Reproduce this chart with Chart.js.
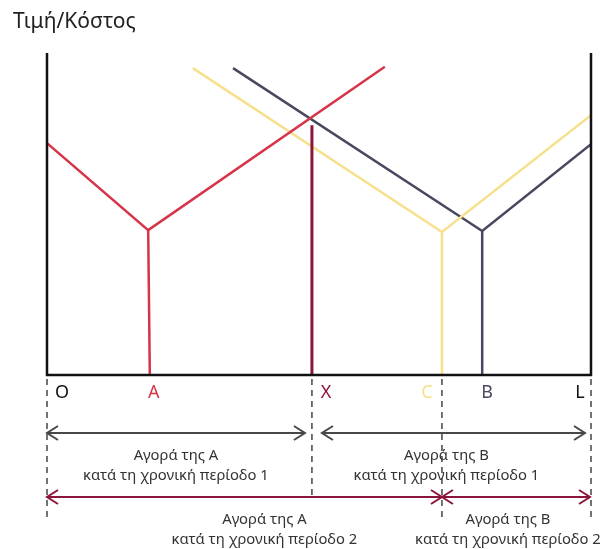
<!DOCTYPE html>
<html>
<head>
<meta charset="utf-8">
<script src="https://cdn.jsdelivr.net/npm/chart.js@4/dist/chart.umd.min.js"></script>
<style>
  html, body { margin: 0; padding: 0; background: #fff; }
  #wrap { position: relative; width: 601px; height: 549px; }
  #title { position: absolute; left: 13px; top: 6px; font: 21px "Noto Sans", sans-serif; color: #222; }
</style>
</head>
<body>
<div id="wrap">
  <canvas id="chart" width="601" height="549"></canvas>
  <div id="title">Τιμή/Κόστος</div>
</div>
<script>
// Quantity axis runs O = 0 to L = 100, price/cost axis 0 to 100

// Cost curve of A (red)
const costAX = [0, 18.6, 62.1];
const costAY = [72.0, 45.0, 95.7];
// Cost curve of B in period 1 (yellow)
const costB1X = [26.8, 72.6, 100];
const costB1Y = [95.3, 44.4, 80.7];
// Cost curve of B in period 2 (navy)
const costB2X = [34.2, 80.0, 100];
const costB2Y = [95.3, 44.7, 71.7];
// Boundary X between the two markets
const boundaryX = 48.7;
const boundaryTop = 77.6;

// Points marked on the quantity axis
const markerNames = ['O', 'A', 'X', 'C', 'B', 'L'];
const markerX = [0, 18.9, 48.7, 72.6, 80.0, 100];

// Market spans under the axis
const spanStart = [0, 48.7, 0, 72.6];
const spanEnd = [48.7, 100, 72.6, 100];
const spanRow = [1, 1, 2, 2];
const spanLine1 = ['Αγορά της Α', 'Αγορά της Β', 'Αγορά της Α', 'Αγορά της Β'];
const spanLine2 = ['κατά τη χρονική περίοδο 1', 'κατά τη χρονική περίοδο 1',
                   'κατά τη χρονική περίοδο 2', 'κατά τη χρονική περίοδο 2'];

const RED = 'rgb(214, 52, 72)';
const YELLOW = 'rgb(247, 224, 140)';
const NAVY = 'rgb(72, 72, 96)';
const MAROON = 'rgb(140, 22, 58)';
const GRAY = 'rgb(72, 72, 72)';
const FONT = '"Noto Sans", sans-serif';

function toPoints(xs, ys) {
    return xs.map((x, i) => ({ x: x, y: ys[i] }));
}

function lineSet(xs, ys, color, width) {
    return {
        data: toPoints(xs, ys),
        showLine: true,
        borderColor: color,
        borderWidth: width,
        pointRadius: 0,
        tension: 0
    };
}

/**
 * Open arrow head pointing along dir (+1 right, -1 left)
 */
function arrowHead(ctx, x, y, dir) {
    ctx.beginPath();
    ctx.moveTo(x - dir * 11, y - 7);
    ctx.lineTo(x, y);
    ctx.lineTo(x - dir * 11, y + 7);
    ctx.stroke();
}

const diagramPlugin = {
    id: 'diagram',
    afterDatasetsDraw(chart) {
        const ctx = chart.ctx;
        const area = chart.chartArea;
        const xs = chart.scales.x;
        ctx.save();

        // Frame: left, bottom and right axes
        ctx.strokeStyle = '#111';
        ctx.lineWidth = 2.5;
        ctx.beginPath();
        ctx.moveTo(area.left, area.top);
        ctx.lineTo(area.left, area.bottom);
        ctx.lineTo(area.right, area.bottom);
        ctx.lineTo(area.right, area.top);
        ctx.stroke();

        // Axis point labels
        const labelColors = ['#111', RED, MAROON, YELLOW, NAVY, '#111'];
        const labelShift = [15, 4, 14, -15, 5, -11];
        ctx.font = '18px ' + FONT;
        ctx.textAlign = 'center';
        ctx.textBaseline = 'middle';
        markerNames.forEach((name, i) => {
            ctx.fillStyle = labelColors[i];
            ctx.fillText(name, xs.getPixelForValue(markerX[i]) + labelShift[i], area.bottom + 18);
        });

        // Dashed guides below the axis
        const guides = [[0, 518], [boundaryX, 497], [72.6, 517], [100, 520]];
        ctx.strokeStyle = '#444';
        ctx.lineWidth = 1.5;
        ctx.setLineDash([6, 5]);
        guides.forEach(g => {
            const px = xs.getPixelForValue(g[0]);
            ctx.beginPath();
            ctx.moveTo(px, area.bottom + 4);
            ctx.lineTo(px, g[1]);
            ctx.stroke();
        });
        ctx.setLineDash([]);

        // Double arrows with their captions
        const rowY = { 1: 433, 2: 497 };
        const rowColor = { 1: GRAY, 2: MAROON };
        const inset = [[0, 7], [10, 6], [0, 0], [0, 1]];
        const textShift = [0, -7, 20, -8];
        spanStart.forEach((s, i) => {
            const row = spanRow[i];
            const x0 = xs.getPixelForValue(s) + inset[i][0];
            const x1 = xs.getPixelForValue(spanEnd[i]) - inset[i][1];
            const y = rowY[row];
            ctx.strokeStyle = rowColor[row];
            ctx.lineWidth = 2;
            ctx.beginPath();
            ctx.moveTo(x0, y);
            ctx.lineTo(x1, y);
            ctx.stroke();
            arrowHead(ctx, x0, y, -1);
            arrowHead(ctx, x1, y, 1);

            const cx = (x0 + x1) / 2 + textShift[i];
            ctx.fillStyle = '#333';
            ctx.font = '14.8px ' + FONT;
            ctx.fillText(spanLine1[i], cx, y + 23);
            ctx.fillText(spanLine2[i], cx, y + 43);
        });

        ctx.restore();
    }
};

new Chart(document.getElementById('chart'), {
    type: 'scatter',
    data: {
        datasets: [
            lineSet([boundaryX, boundaryX], [boundaryTop, 0], MAROON, 3),
            lineSet(costAX, costAY, RED, 2.5),
            lineSet([costAX[1], markerX[1]], [costAY[1], 0], RED, 2.5),
            lineSet(costB1X, costB1Y, YELLOW, 2.5),
            lineSet([costB1X[1], markerX[3]], [costB1Y[1], 0], YELLOW, 2.5),
            lineSet(costB2X, costB2Y, NAVY, 2.5),
            lineSet([costB2X[1], markerX[4]], [costB2Y[1], 0], NAVY, 2.5)
        ]
    },
    options: {
        responsive: false,
        animation: false,
        events: [],
        layout: { padding: { left: 47, right: 10, top: 53, bottom: 174 } },
        scales: {
            x: { type: 'linear', min: 0, max: 100, display: false },
            y: { type: 'linear', min: 0, max: 100, display: false }
        },
        plugins: {
            legend: { display: false },
            tooltip: { enabled: false }
        }
    },
    plugins: [diagramPlugin]
});
</script>
</body>
</html>
